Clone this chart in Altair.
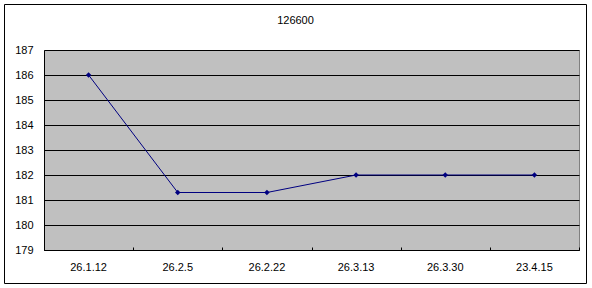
import altair as alt
import pandas as pd

dates = ["26.1.12", "26.2.5", "26.2.22", "26.3.13", "26.3.30", "23.4.15"]
values = [186, 181.3, 181.3, 182, 182, 182]

df = pd.DataFrame({"date": dates, "value": values})

FONT = "Liberation Sans"
NAVY = "#000080"

yscale = alt.Scale(domain=[179, 187], nice=False, zero=False)
yaxis = alt.Axis(title=None, values=list(range(179, 188)), format="d",
                 labelFont=FONT, labelFontSize=11, labelColor="black",
                 ticks=False, labelPadding=11, domain=True,
                 domainColor="black", grid=True, gridColor="black",
                 gridWidth=1, gridOpacity=1)

line = alt.Chart(df).mark_line(color=NAVY, strokeWidth=1).encode(
    x=alt.X("date:N", sort=dates, scale=alt.Scale(paddingInner=0, paddingOuter=0),
            axis=alt.Axis(title=None, orient="bottom", labelAngle=0, labelFont=FONT,
                          labelFontSize=11, labelColor="black", ticks=False,
                          labelPadding=11, domain=True, domainColor="black",
                          domainWidth=1, grid=False)),
    y=alt.Y("value:Q", scale=yscale, axis=yaxis),
)

points = alt.Chart(df).mark_point(shape="diamond", filled=True, color=NAVY,
                                  size=30, opacity=1).encode(
    x=alt.X("date:N", sort=dates, scale=alt.Scale(paddingInner=0, paddingOuter=0),
            axis=alt.Axis(title=None, orient="bottom", labels=False, domain=False,
                          ticks=True, tickSize=3, tickColor="black", tickBand="extent",
                          offset=-3, grid=False)),
    y=alt.Y("value:Q", scale=yscale, axis=yaxis),
)

border = alt.Chart(alt.Data(values=[{"a": 1}])).mark_rect(
    fill=None, stroke="black", strokeWidth=1
).encode(
    x=alt.value(-39.5), x2=alt.value(542.5), y=alt.value(-45.5), y2=alt.value(233.5)
)

chart = alt.layer(line, points, border).resolve_axis(x="independent").properties(
    width=535,
    height=200,
    autosize=alt.AutoSizeParams(type="none"),
    padding={"left": 44, "top": 50, "right": 13, "bottom": 38},
    background="white",
    title=alt.TitleParams("126600", font=FONT, fontSize=11, fontWeight="normal",
                          color="black", anchor="middle", baseline="bottom",
                          offset=-33, dx=-16),
).configure_view(
    fill="#C0C0C0", stroke="#808080", strokeWidth=1
)

chart.save("out.html", embed_options={"renderer": "svg", "actions": False})
